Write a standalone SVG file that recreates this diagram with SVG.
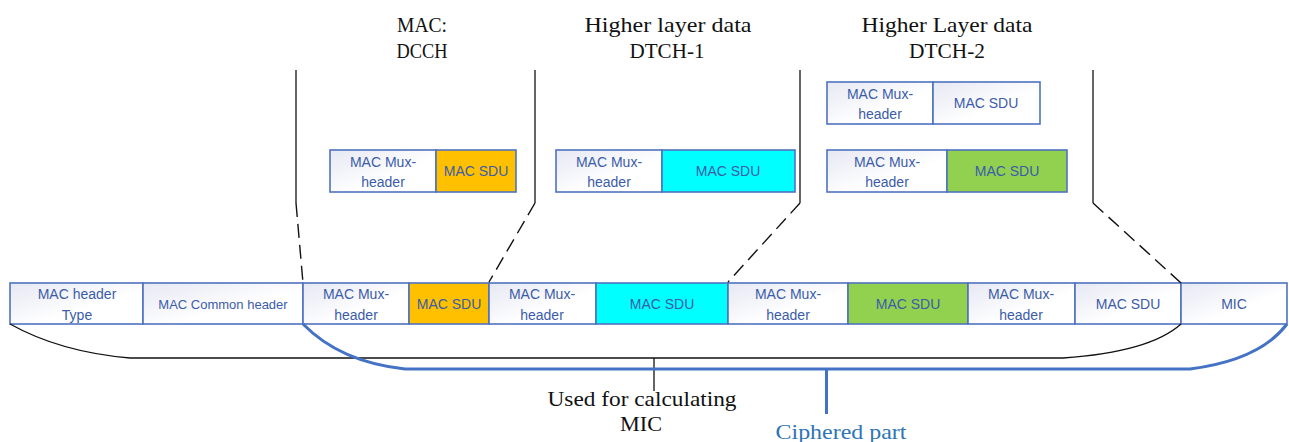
<svg xmlns="http://www.w3.org/2000/svg" width="1289" height="442" viewBox="0 0 1289 442">
<defs>
<linearGradient id="g" x1="0" y1="0" x2="1" y2="1">
<stop offset="0" stop-color="#E6E8F3"/>
<stop offset="0.6" stop-color="#FFFFFF"/>
</linearGradient>
<style>
.c{stroke:#4F72BE;stroke-width:1.6;}
.w{fill:url(#g);}
.o{fill:#FFC000;}
.cy{fill:#00FFFF;}
.gr{fill:#92D050;}
.t{font-family:"Liberation Sans",Arial,sans-serif;font-size:14px;fill:#3B5CA8;text-anchor:middle;}
.h{font-family:"Liberation Serif","DejaVu Serif",serif;font-size:21px;fill:#111;text-anchor:middle;}
.k{fill:none;stroke:#111;stroke-width:1.3;}
.d{fill:none;stroke:#111;stroke-width:1.4;stroke-dasharray:14,7;}
</style>
</defs>
<rect width="1289" height="442" fill="#fff"/>

<g id="titles">
<text class="h" x="422" y="32" textLength="50" lengthAdjust="spacingAndGlyphs">MAC:</text>
<text class="h" x="422" y="58" textLength="51" lengthAdjust="spacingAndGlyphs">DCCH</text>
<text class="h" x="668" y="32" textLength="167" lengthAdjust="spacingAndGlyphs">Higher layer data</text>
<text class="h" x="667" y="58" textLength="75" lengthAdjust="spacingAndGlyphs">DTCH-1</text>
<text class="h" x="947" y="32" textLength="171" lengthAdjust="spacingAndGlyphs">Higher Layer data</text>
<text class="h" x="947" y="58" textLength="76" lengthAdjust="spacingAndGlyphs">DTCH-2</text>
</g>

<g id="dcch-pdu">
<rect class="c w" x="330" y="150" width="106" height="42"/>
<rect class="c o" x="436" y="150" width="80" height="42"/>
<text class="t" x="383" y="167">MAC Mux-</text>
<text class="t" x="383" y="187">header</text>
<text class="t" x="476" y="176">MAC SDU</text>
</g>

<g id="dtch1-pdu">
<rect class="c w" x="556" y="150" width="106" height="42"/>
<rect class="c cy" x="662" y="150" width="133" height="42"/>
<text class="t" x="609" y="167">MAC Mux-</text>
<text class="t" x="609" y="187">header</text>
<text class="t" x="728" y="176">MAC SDU</text>
</g>

<g id="dtch2-pdu-a">
<rect class="c w" x="827" y="82" width="106" height="42"/>
<rect class="c w" x="933" y="82" width="107" height="42"/>
<text class="t" x="880" y="99">MAC Mux-</text>
<text class="t" x="880" y="119">header</text>
<text class="t" x="986" y="108">MAC SDU</text>
</g>

<g id="dtch2-pdu-b">
<rect class="c w" x="827" y="150" width="120" height="42"/>
<rect class="c gr" x="947" y="150" width="120" height="42"/>
<text class="t" x="887" y="167">MAC Mux-</text>
<text class="t" x="887" y="187">header</text>
<text class="t" x="1007" y="176">MAC SDU</text>
</g>

<g id="mac-pdu">
<rect class="c w" x="10" y="283" width="133" height="41"/>
<text class="t" x="77" y="299">MAC  header</text>
<text class="t" x="77" y="320">Type</text>
<rect class="c w" x="143" y="283" width="160" height="41"/>
<text class="t" x="223" y="309" style="font-size:13px">MAC Common header</text>
<rect class="c w" x="303" y="283" width="106" height="41"/>
<text class="t" x="356" y="299">MAC Mux-</text>
<text class="t" x="356" y="320">header</text>
<rect class="c o" x="409" y="283" width="80" height="41"/>
<text class="t" x="449" y="309">MAC SDU</text>
<rect class="c w" x="489" y="283" width="107" height="41"/>
<text class="t" x="542" y="299">MAC Mux-</text>
<text class="t" x="542" y="320">header</text>
<rect class="c cy" x="596" y="283" width="132" height="41"/>
<text class="t" x="662" y="309">MAC SDU</text>
<rect class="c w" x="728" y="283" width="120" height="41"/>
<text class="t" x="788" y="299">MAC Mux-</text>
<text class="t" x="788" y="320">header</text>
<rect class="c gr" x="848" y="283" width="120" height="41"/>
<text class="t" x="908" y="309">MAC SDU</text>
<rect class="c w" x="968" y="283" width="107" height="41"/>
<text class="t" x="1021" y="299">MAC Mux-</text>
<text class="t" x="1021" y="320">header</text>
<rect class="c w" x="1075" y="283" width="106" height="41"/>
<text class="t" x="1128" y="309">MAC SDU</text>
<rect class="c w" x="1181" y="283" width="106" height="41"/>
<text class="t" x="1234" y="309">MIC</text>
</g>

<g id="connectors">
<path class="k" d="M296 70 V203"/>
<path class="d" d="M296 203 L303 283"/>
<path class="k" d="M535 70 V203"/>
<path class="d" d="M535 203 L489 282"/>
<path class="k" d="M800 70 V203"/>
<path class="d" d="M800 203 L728 282"/>
<path class="k" d="M1093 70 V203"/>
<path class="d" d="M1093 203 L1181 283"/>
<path class="k" d="M10 324 Q60 352 130 358 H1063 Q1150 352 1181 324"/>
<path class="k" d="M654 358 V391"/>
<path d="M303 324 Q340 362 405 369 H1190 Q1260 360 1287 324" fill="none" stroke="#4472C4" stroke-width="3"/>
<path d="M826.5 369 V414" fill="none" stroke="#4472C4" stroke-width="3"/>
</g>

<g id="labels">
<text class="h" x="642" y="406" textLength="189" lengthAdjust="spacingAndGlyphs">Used for calculating</text>
<text class="h" x="641" y="431" textLength="42" lengthAdjust="spacingAndGlyphs">MIC</text>
<text class="h" x="841" y="439" style="fill:#2E75B6" textLength="131" lengthAdjust="spacingAndGlyphs">Ciphered part</text>
</g>
</svg>
